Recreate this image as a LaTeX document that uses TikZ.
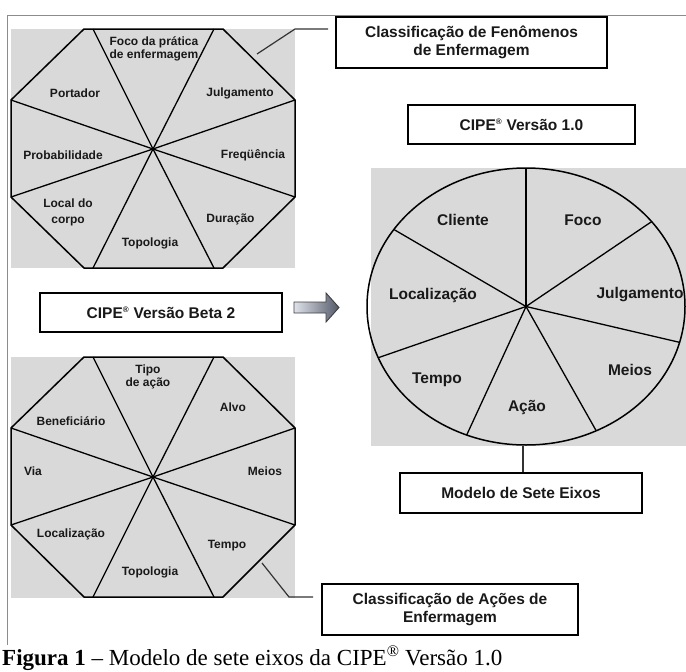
\documentclass[tikz,border=0pt]{standalone}
\usepackage{fontspec}
\setmainfont{Liberation Serif}
\newfontfamily\arialf{Liberation Sans}
\definecolor{bgray}{RGB}{217,217,217}
\definecolor{framegray}{RGB}{140,140,140}
\definecolor{arrlight}{RGB}{222,226,234}
\definecolor{arrdark}{RGB}{85,90,105}
\newcommand{\regm}{\textsuperscript{\fontsize{8}{8}\selectfont ®}}
\begin{document}
\begin{tikzpicture}[x=1pt,y=-1pt,
  octa/.style={draw=black,line width=1.5pt,line join=round},
  spoke/.style={draw=black,line width=1.3pt},
  lbl/.style={font=\arialf\bfseries\fontsize{12}{13}\selectfont,align=center,inner sep=0pt,text=black!90},
  big/.style={font=\arialf\bfseries\fontsize{15.5}{18}\selectfont,align=center,inner sep=0pt,text=black!90},
  boxst/.style={draw=black,line width=1.2pt,fill=white,font=\arialf\bfseries\fontsize{15.5}{18}\selectfont,align=center,inner sep=0pt,text=black!90},
  lead/.style={draw=black!80,line width=1.2pt},
]
\useasboundingbox (0,0) rectangle (686,672);
\fill[white] (0,0) rectangle (686,672);
% frame
\draw[framegray,line width=0.8pt] (7,645) -- (7,15) -- (686,15);

% ---------- top octagon ----------
\fill[bgray] (11,29) rectangle (295,268);
\coordinate (oc1) at (153,149);
\foreach \a/\b in {93/29,214/29,295/100,295/197,214/268,93/268,11/197,11/100}
  \draw[spoke] (oc1) -- (\a,\b);
\draw[octa] (84,29) -- (223,29) -- (295,100) -- (295,197) -- (223,268) -- (84,268) -- (11,197) -- (11,100) -- cycle;
\fill (oc1) circle (1.8pt);
\node[lbl,font=\arialf\bfseries\fontsize{12}{13}\selectfont] (t1) at (154,48.5) {Foco da prática\\de enfermagem};
\node[lbl] (t2) at (75,93) {Portador};
\node[lbl] (t3) at (240,93) {Julgamento};
\node[lbl] (t4) at (63,155) {Probabilidade};
\node[lbl] (t5) at (253,155) {Freqüência};
\node[lbl,font=\arialf\bfseries\fontsize{12}{16}\selectfont] (t6) at (68,212) {Local do\\corpo};
\node[lbl] (t7) at (230.5,219) {Duração};
\node[lbl] (t8) at (150,243) {Topologia};

% ---------- bottom octagon ----------
\fill[bgray] (11,357) rectangle (295,598);
\coordinate (oc2) at (153,477);
\foreach \a/\b in {93/357,214/357,295/428,295/525,214/597,93/597,11/525,11/428}
  \draw[spoke] (oc2) -- (\a,\b);
\draw[octa] (84,357) -- (223,357) -- (295,428) -- (295,525) -- (223,597) -- (84,597) -- (11,525) -- (11,428) -- cycle;
\fill (oc2) circle (1.8pt);
\node[lbl,font=\arialf\bfseries\fontsize{12}{12.5}\selectfont] (b1) at (148,377) {Tipo\\de ação};
\node[lbl] (b2) at (233,407) {Alvo};
\node[lbl] (b3) at (71,421) {Beneficiário};
\node[lbl] (b4) at (33,471) {Via};
\node[lbl] (b5) at (265,471) {Meios};
\node[lbl] (b6) at (71,534) {Localização};
\node[lbl] (b7) at (227,546) {Tempo};
\node[lbl] (b8) at (150,572) {Topologia};

% ---------- circle ----------
\fill[bgray] (371,168) rectangle (686,446);
\coordinate (ec) at (526,306.5);
\foreach \t in {90,37.8,-15,-63.8,-111.9,-158.3,146.2}
  \draw[spoke] (ec) -- ++(\t:159pt and 138.5pt);
\draw[octa] (ec) ellipse [x radius=159pt, y radius=138.5pt];
\fill (ec) circle (1.6pt);
\node[big] (c1) at (463,220) {Cliente};
\node[big] (c2) at (583,220) {Foco};
\node[big] (c3) at (640,295) {Julgamento};
\node[big] (c4) at (433,295) {Localização};
\node[big] (c5) at (630,370) {Meios};
\node[big] (c6) at (437,380) {Tempo};
\node[big] (c7) at (527,408) {Ação};

% ---------- boxes ----------
\node[boxst,minimum width=271pt,minimum height=51pt] (fen) at (471.5,42.5) {Classificação de Fenômenos\\de Enfermagem};
\node[boxst,minimum width=227pt,minimum height=39pt] (v10) at (521.5,124.5) {CIPE\regm{} Versão 1.0};
\node[boxst,minimum width=242pt,minimum height=39pt] (beta) at (161,312.5) {CIPE\regm{} Versão Beta 2};
\node[boxst,minimum width=242pt,minimum height=40pt] (mod) at (521,493) {Modelo de Sete Eixos};
\node[boxst,minimum width=256pt,minimum height=51pt] (aco) at (450,609.5) {Classificação de Ações de\\Enfermagem};

% ---------- connectors ----------
\coordinate (l1a) at (257,54);
\coordinate (l1b) at (295,29);
\coordinate (l1c) at (328,29);
\draw[lead] (l1a) -- (l1b) -- (l1c);
\coordinate (l2a) at (262,563);
\coordinate (l2b) at (289,597);
\coordinate (l2c) at (313,597);
\draw[lead] (l2a) -- (l2b) -- (l2c);
\coordinate (eb) at (523,446);
\draw[lead] (eb) -- (eb |- mod.north);

% block arrow
\shade[left color=arrlight,right color=arrdark,draw=black!75,line width=0.9pt,line join=miter]
  (294,302) -- (326,302) -- (326,293) -- (339,307.5) -- (326,322) -- (326,313) -- (294,313) -- cycle;

% caption
\node[anchor=base west,inner sep=0pt,font=\fontsize{23}{26}\selectfont] (cap) at (2,665.5)
  {\textbf{Figura 1} -- Modelo de sete eixos da CIPE\textsuperscript{®} Versão 1.0};
\end{tikzpicture}
\end{document}
